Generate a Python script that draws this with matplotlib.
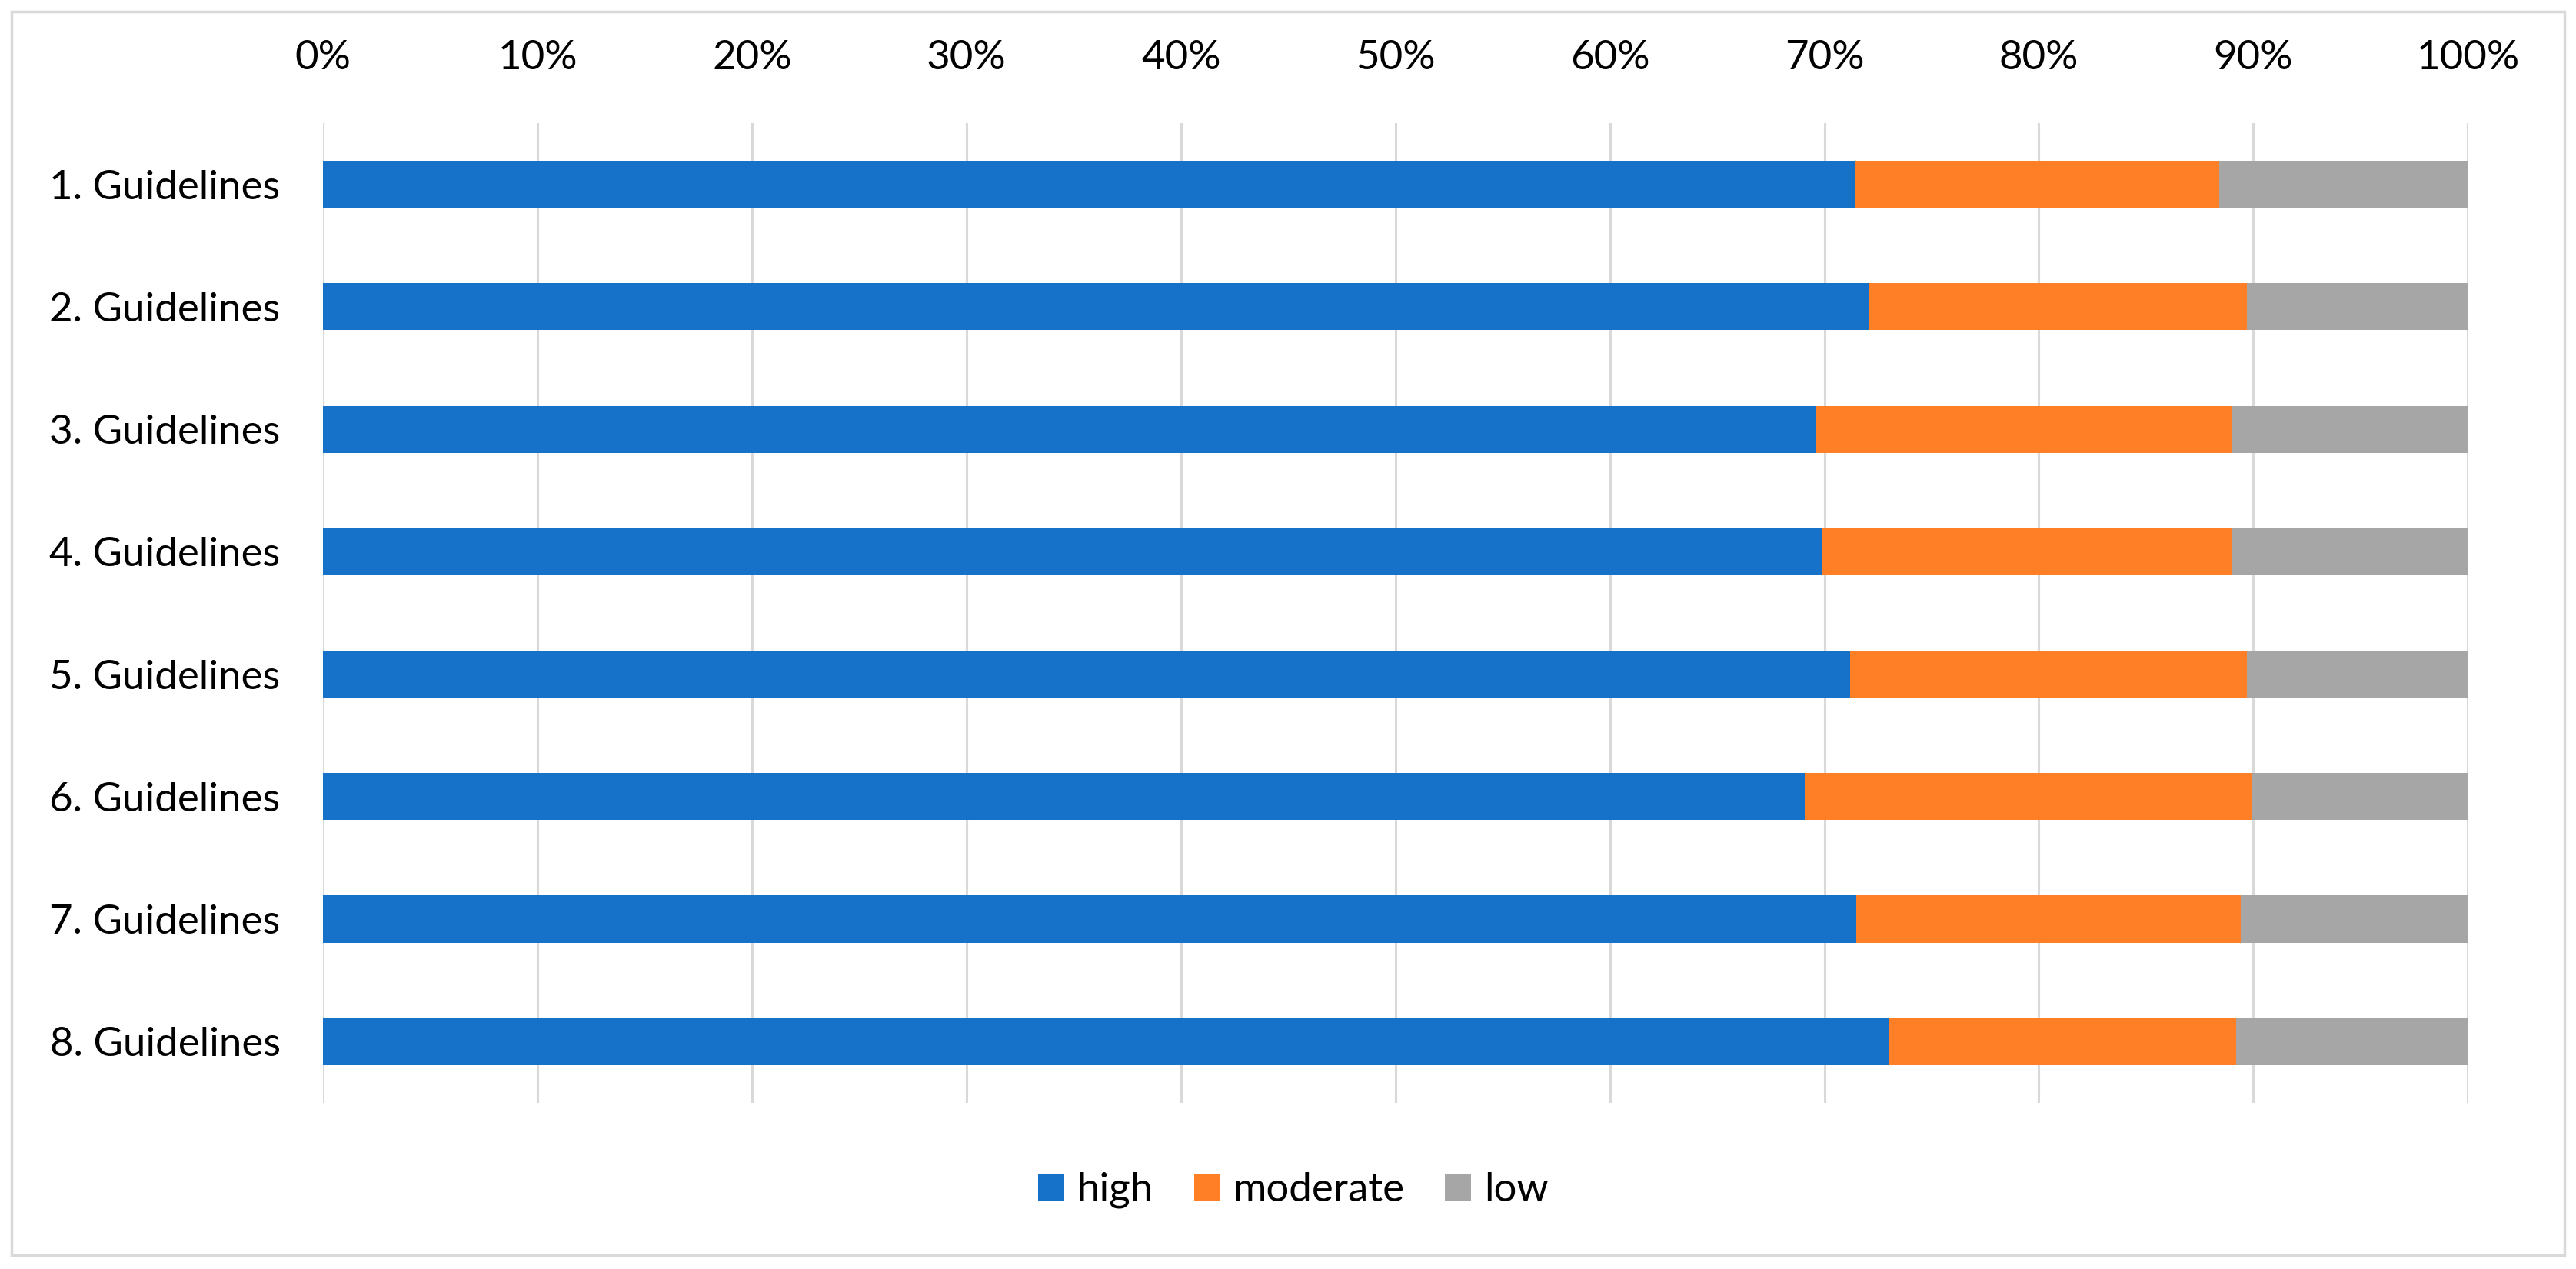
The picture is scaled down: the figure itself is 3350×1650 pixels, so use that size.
import matplotlib.pyplot as plt
import numpy as np
from matplotlib.patches import Rectangle

plt.rcParams['font.family'] = ['Lato', 'DejaVu Sans']

# data (percent)
categories = ['1. Guidelines', '2. Guidelines', '3. Guidelines', '4. Guidelines',
              '5. Guidelines', '6. Guidelines', '7. Guidelines', '8. Guidelines']
high = [71.4, 72.1, 69.6, 69.9, 71.2, 69.1, 71.5, 73.0]
moderate = [17.0, 17.6, 19.4, 19.1, 18.5, 20.8, 17.9, 16.2]
low = [11.6, 10.3, 11.0, 11.0, 10.3, 10.1, 10.6, 10.8]
series_names = ['high', 'moderate', 'low']
colors = ['#1672C9', '#FE7F25', '#A6A6A6']

fig = plt.figure(figsize=(33.5, 16.5), dpi=100)
ax = fig.add_axes([0.1254, 0.131, 0.958 - 0.1254, 0.903 - 0.131])

# outer chart border
fig.patches.append(Rectangle((15 / 3350, 1 - 1632 / 1650), 3320 / 3350, (1632 - 15) / 1650,
                             transform=fig.transFigure, fill=False,
                             edgecolor='#D9D9D9', linewidth=2.5))

y = np.arange(len(categories))
left = np.zeros(len(categories))
for vals, name, col in zip([high, moderate, low], series_names, colors):
    ax.barh(y, vals, left=left, height=0.384, color=col, label=name, zorder=3)
    left += np.array(vals)

ax.set_xlim(0, 100)
ax.set_ylim(len(categories) - 0.5, -0.5)
ax.set_yticks(y)
ax.set_yticklabels(categories)
ax.set_xticks(np.arange(0, 101, 10))
ax.set_xticklabels([f'{t}%' for t in range(0, 101, 10)])
ax.xaxis.tick_top()
ax.tick_params(axis='both', length=0, labelsize=38, colors='#000000')
ax.tick_params(axis='x', pad=44)
ax.tick_params(axis='y', pad=40)
ax.grid(axis='x', color='#D9D9D9', linewidth=2.2, zorder=0)
for s in ax.spines.values():
    s.set_visible(False)

fig.legend(loc='center', bbox_to_anchor=(0.502, 0.062), ncol=3, frameon=False,
           fontsize=38, handlelength=0.64, handleheight=0.64,
           handletextpad=0.32, columnspacing=1.0)

fig.savefig('out.png', dpi=100)
